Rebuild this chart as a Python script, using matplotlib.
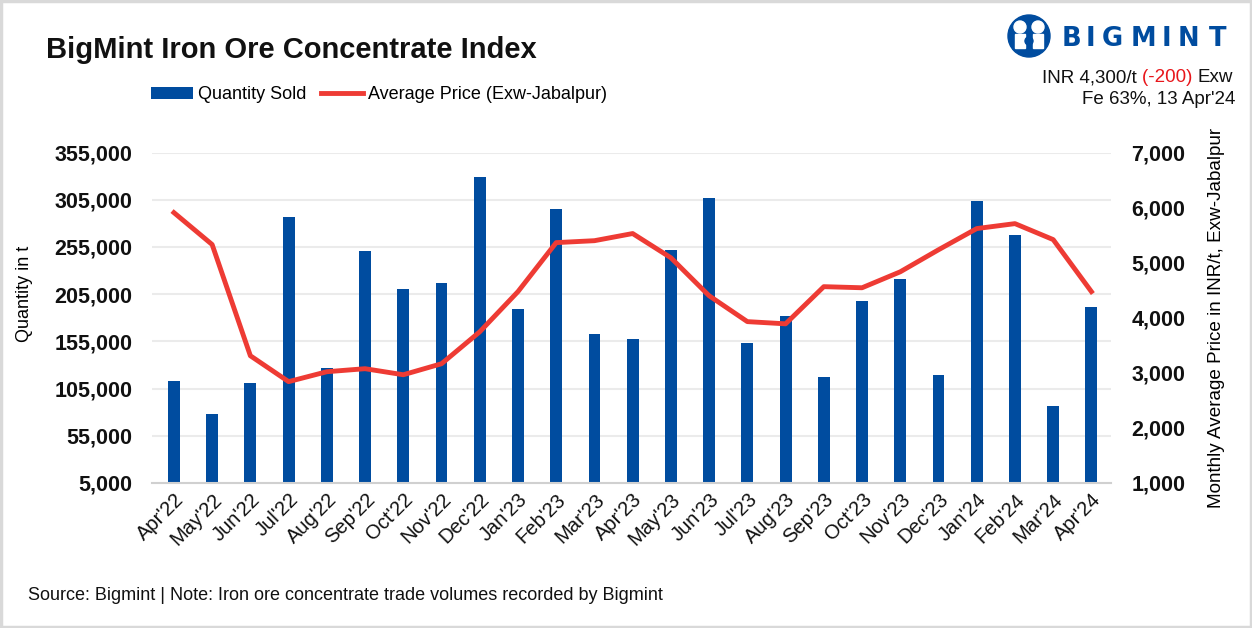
import numpy as np
import matplotlib.pyplot as plt
from matplotlib.patches import Rectangle, Circle

# data
months = ["Apr'22", "May'22", "Jun'22", "Jul'22", "Aug'22", "Sep'22", "Oct'22", "Nov'22",
          "Dec'22", "Jan'23", "Feb'23", "Mar'23", "Apr'23", "May'23", "Jun'23", "Jul'23",
          "Aug'23", "Sep'23", "Oct'23", "Nov'23", "Dec'23", "Jan'24", "Feb'24", "Mar'24",
          "Apr'24"]
quantity = [113000, 78000, 111000, 287000, 127000, 251000, 210000, 217000,
            329500, 189500, 295500, 163000, 157500, 252000, 307000, 153500,
            182000, 117500, 198000, 221500, 119500, 304000, 268000, 87000,
            191500]
price = [5910, 5330, 3310, 2840, 3020, 3075, 2965, 3165,
         3745, 4475, 5365, 5400, 5530, 5090, 4400, 3930,
         3890, 4565, 4545, 4835, 5235, 5620, 5710, 5420,
         4475]
left_ticks = [5000, 55000, 105000, 155000, 205000, 255000, 305000, 355000]
right_ticks = [1000, 2000, 3000, 4000, 5000, 6000, 7000]

blue = '#004C9F'
red = '#EE3B34'
font = 'Liberation Sans'
plt.rcParams['font.family'] = [font, 'DejaVu Sans']

fig = plt.figure(figsize=(12.52, 6.28), dpi=100)

ax = fig.add_axes([0.1215, 0.231, 0.7655, 0.526])
x = np.arange(len(months))
ax.bar(x, quantity, width=0.31, color=blue, zorder=2, label='Quantity Sold')
ax.set_ylim(5000, 355000)
ax.set_xlim(-0.57, 24.5)
ax.set_yticks(left_ticks)
ax.set_yticklabels([f'{v:,}' for v in left_ticks], fontsize=15.5, fontweight='bold')
ax.set_xticks(x)
ax.set_xticklabels(months, rotation=45, ha='right', rotation_mode='anchor', fontsize=14.5)
ax.tick_params(axis='both', length=0, colors='#111111')
ax.tick_params(axis='y', pad=14)
ax.tick_params(axis='x', pad=5)
ax.grid(axis='y', color='#ebebeb', linewidth=1.5, zorder=0)
for s in ['top', 'right', 'left']:
    ax.spines[s].set_visible(False)
ax.spines['bottom'].set_color('#d0d0d0')
ax.spines['bottom'].set_linewidth(1.5)
ax.set_ylabel('Quantity in t', fontsize=13)
ax.yaxis.set_label_coords(-0.124, 0.573)

ax2 = ax.twinx()
ax2.plot(x, price, color=red, linewidth=3.5, zorder=3, label='Average Price (Exw-Jabalpur)')
ax2.set_ylim(1000, 7000)
ax2.set_yticks(right_ticks)
ax2.set_yticklabels([f'{v:,}' for v in right_ticks], fontsize=15.5, fontweight='bold')
ax2.tick_params(axis='y', length=0, pad=15, colors='#111111')
for s in ax2.spines.values():
    s.set_visible(False)
ax2.set_ylabel('Monthly Average Price in INR/t, Exw-Jabalpur', fontsize=13.6)
ax2.yaxis.set_label_coords(1.102, 0.5)

# overlay in pixel units for border, logo, header
ov = fig.add_axes([0, 0, 1, 1], zorder=-1)
ov.set_xlim(0, 1252)
ov.set_ylim(628, 0)
ov.axis('off')
ov.add_patch(Rectangle((1, 1), 1250, 626, fill=False, edgecolor='#d9d9d9', linewidth=2.5))

# logo
ov.add_patch(Circle((1029, 36), 21, color=blue))
for cx in (1020, 1038):
    ov.add_patch(Circle((cx, 27), 6, color='white'))
    ov.add_patch(Rectangle((cx - 5, 34), 10, 14, color='white'))
ov.add_patch(Circle((1029, 41), 4, color=blue))
for ch, cx in zip('BIGMINT', [1071, 1090, 1112, 1143, 1166, 1188, 1218]):
    ov.text(cx, 39, ch, fontsize=18.5, fontweight='bold', color=blue, ha='center', va='center',
            family='DejaVu Sans')

# title and legend
ov.text(46, 50, 'BigMint Iron Ore Concentrate Index', fontsize=21, fontweight='bold',
        color='#111111', va='center')
h1, l1 = ax.get_legend_handles_labels()
h2, l2 = ax2.get_legend_handles_labels()
fig.legend(h1 + h2, l1 + l2, loc='center left', bbox_to_anchor=(0.108, 0.849), ncol=2,
           frameon=False, fontsize=13, handlelength=2.3, handletextpad=0.3, columnspacing=0.8)

# header info, laid out right to left
fig.canvas.draw()
r = fig.canvas.get_renderer()
xr = 1233
for txt, col in [('Exw', '#111111'), ('(-200) ', '#e8161b'), ('INR 4,300/t ', '#111111')]:
    t = ov.text(xr, 78, txt, fontsize=13.5, ha='right', va='center', color=col)
    bb = t.get_window_extent(r)
    xr -= bb.width
ov.text(1235, 100, "Fe 63%, 13 Apr'24", fontsize=13.5, ha='right', va='center', color='#111111')

ov.text(28, 595, 'Source: Bigmint | Note: Iron ore concentrate trade volumes recorded by Bigmint',
        fontsize=13, color='#111111', va='center')

fig.savefig('out.png', dpi=100)
